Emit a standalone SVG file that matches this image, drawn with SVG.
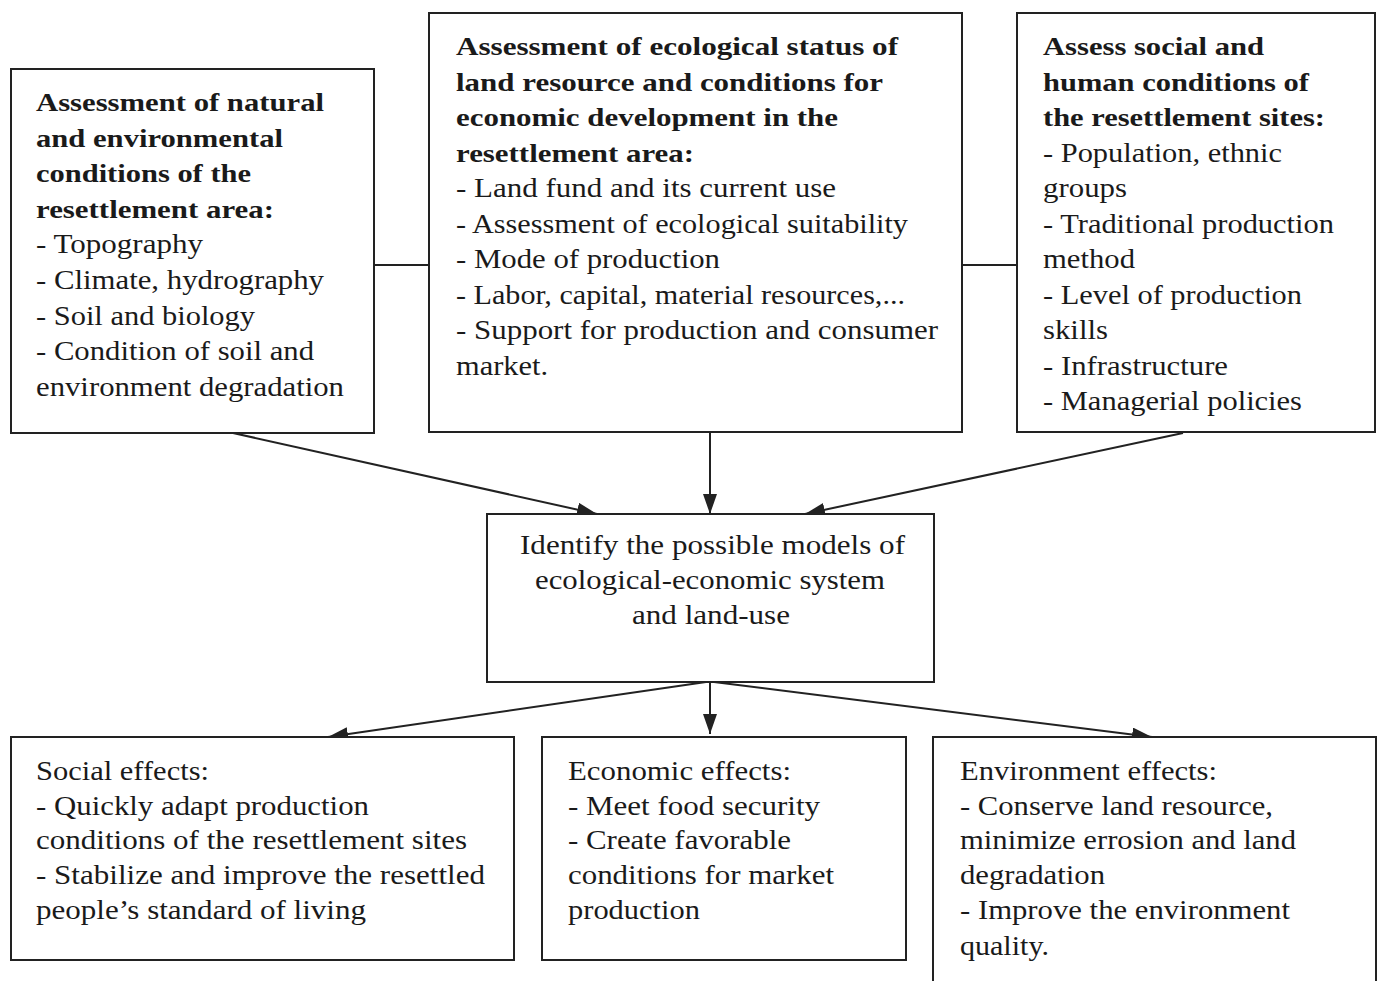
<svg xmlns="http://www.w3.org/2000/svg" width="1381" height="981" viewBox="0 0 1381 981">
<defs>
<style>
.box{fill:#fff;stroke:#222;stroke-width:2}
.ln{stroke:#222;stroke-width:2;fill:none}
.ar{stroke:#222;stroke-width:2;fill:none;marker-end:url(#ah)}
text{font-family:"Liberation Serif","Times New Roman",serif;font-size:27px;fill:#1a1a1a}
.b{font-weight:bold;font-size:26px}
</style>
<marker id="ah" markerUnits="userSpaceOnUse" markerWidth="22" markerHeight="16" refX="20" refY="7" orient="auto">
<path d="M0,0 L20,7 L0,14 z" fill="#222"/>
</marker>
</defs>
<rect width="1381" height="981" fill="#fff"/>
<g id="connectors">
<line class="ln" x1="374" y1="265" x2="429" y2="265"/>
<line class="ln" x1="962" y1="265" x2="1017" y2="265"/>
<line class="ar" x1="233" y1="433" x2="597" y2="514"/>
<line class="ar" x1="710" y1="433" x2="710" y2="514"/>
<line class="ar" x1="1183" y1="433" x2="805" y2="514"/>
<line class="ar" x1="706" y1="682" x2="328" y2="737"/>
<line class="ar" x1="710" y1="682" x2="710" y2="734"/>
<line class="ar" x1="714" y1="682" x2="1152" y2="737"/>
</g>
<g id="node-natural">
<rect class="box" x="11" y="69" width="363" height="364"/>
<text class="b" x="36" y="111" textLength="288" lengthAdjust="spacingAndGlyphs">Assessment of natural</text>
<text class="b" x="36" y="147" textLength="247" lengthAdjust="spacingAndGlyphs">and environmental</text>
<text class="b" x="36" y="182" textLength="215" lengthAdjust="spacingAndGlyphs">conditions of the</text>
<text class="b" x="36" y="218" textLength="238" lengthAdjust="spacingAndGlyphs">resettlement area:</text>
<text x="36" y="253" textLength="167" lengthAdjust="spacingAndGlyphs">- Topography</text>
<text x="36" y="289" textLength="288" lengthAdjust="spacingAndGlyphs">- Climate, hydrography</text>
<text x="36" y="325" textLength="219" lengthAdjust="spacingAndGlyphs">- Soil and biology</text>
<text x="36" y="360" textLength="278" lengthAdjust="spacingAndGlyphs">- Condition of soil and</text>
<text x="36" y="396" textLength="308" lengthAdjust="spacingAndGlyphs">environment degradation</text>
</g>
<g id="node-ecological">
<rect class="box" x="429" y="13" width="533" height="419"/>
<text class="b" x="456" y="55" textLength="442" lengthAdjust="spacingAndGlyphs">Assessment of ecological status of</text>
<text class="b" x="456" y="90.5" textLength="427" lengthAdjust="spacingAndGlyphs">land resource and conditions for</text>
<text class="b" x="456" y="126" textLength="382" lengthAdjust="spacingAndGlyphs">economic development in the</text>
<text class="b" x="456" y="161.5" textLength="238" lengthAdjust="spacingAndGlyphs">resettlement area:</text>
<text x="456" y="197" textLength="380" lengthAdjust="spacingAndGlyphs">- Land fund and its current use</text>
<text x="456" y="232.5" textLength="452" lengthAdjust="spacingAndGlyphs">- Assessment of ecological suitability</text>
<text x="456" y="268" textLength="264" lengthAdjust="spacingAndGlyphs">- Mode of production</text>
<text x="456" y="303.5" textLength="449" lengthAdjust="spacingAndGlyphs">- Labor, capital, material resources,...</text>
<text x="456" y="339" textLength="482" lengthAdjust="spacingAndGlyphs">- Support for production and consumer</text>
<text x="456" y="374.5" textLength="92" lengthAdjust="spacingAndGlyphs">market.</text>
</g>
<g id="node-social">
<rect class="box" x="1017" y="13" width="358" height="419"/>
<text class="b" x="1043" y="55" textLength="221" lengthAdjust="spacingAndGlyphs">Assess social and</text>
<text class="b" x="1043" y="90.5" textLength="266" lengthAdjust="spacingAndGlyphs">human conditions of</text>
<text class="b" x="1043" y="126" textLength="282" lengthAdjust="spacingAndGlyphs">the resettlement sites:</text>
<text x="1043" y="161.5" textLength="239" lengthAdjust="spacingAndGlyphs">- Population, ethnic</text>
<text x="1043" y="197" textLength="84" lengthAdjust="spacingAndGlyphs">groups</text>
<text x="1043" y="232.5" textLength="291" lengthAdjust="spacingAndGlyphs">- Traditional production</text>
<text x="1043" y="268" textLength="92" lengthAdjust="spacingAndGlyphs">method</text>
<text x="1043" y="303.5" textLength="259" lengthAdjust="spacingAndGlyphs">- Level of production</text>
<text x="1043" y="339" textLength="65" lengthAdjust="spacingAndGlyphs">skills</text>
<text x="1043" y="374.5" textLength="185" lengthAdjust="spacingAndGlyphs">- Infrastructure</text>
<text x="1043" y="410" textLength="259" lengthAdjust="spacingAndGlyphs">- Managerial policies</text>
</g>
<g id="node-identify">
<rect class="box" x="487" y="514" width="447" height="168"/>
<text x="520" y="554" textLength="385" lengthAdjust="spacingAndGlyphs">Identify the possible models of</text>
<text x="535" y="589" textLength="350" lengthAdjust="spacingAndGlyphs">ecological-economic system</text>
<text x="632" y="624" textLength="158" lengthAdjust="spacingAndGlyphs">and land-use</text>
</g>
<g id="node-social-effects">
<rect class="box" x="11" y="737" width="503" height="223"/>
<text x="36" y="780" textLength="173" lengthAdjust="spacingAndGlyphs">Social effects:</text>
<text x="36" y="815" textLength="333" lengthAdjust="spacingAndGlyphs">- Quickly adapt production</text>
<text x="36" y="849" textLength="431" lengthAdjust="spacingAndGlyphs">conditions of the resettlement sites</text>
<text x="36" y="884" textLength="449" lengthAdjust="spacingAndGlyphs">- Stabilize and improve the resettled</text>
<text x="36" y="919" textLength="330" lengthAdjust="spacingAndGlyphs">people’s standard of living</text>
</g>
<g id="node-economic-effects">
<rect class="box" x="542" y="737" width="364" height="223"/>
<text x="568" y="780" textLength="223" lengthAdjust="spacingAndGlyphs">Economic effects:</text>
<text x="568" y="815" textLength="252" lengthAdjust="spacingAndGlyphs">- Meet food security</text>
<text x="568" y="849" textLength="223" lengthAdjust="spacingAndGlyphs">- Create favorable</text>
<text x="568" y="884" textLength="266" lengthAdjust="spacingAndGlyphs">conditions for market</text>
<text x="568" y="919" textLength="132" lengthAdjust="spacingAndGlyphs">production</text>
</g>
<g id="node-environment-effects">
<path class="box" d="M933,985 L933,737 L1376,737 L1376,985"/>
<text x="960" y="780" textLength="257" lengthAdjust="spacingAndGlyphs">Environment effects:</text>
<text x="960" y="815" textLength="313" lengthAdjust="spacingAndGlyphs">- Conserve land resource,</text>
<text x="960" y="849" textLength="336" lengthAdjust="spacingAndGlyphs">minimize errosion and land</text>
<text x="960" y="884" textLength="145" lengthAdjust="spacingAndGlyphs">degradation</text>
<text x="960" y="919" textLength="330" lengthAdjust="spacingAndGlyphs">- Improve the environment</text>
<text x="960" y="955" textLength="89" lengthAdjust="spacingAndGlyphs">quality.</text>
</g>
</svg>
